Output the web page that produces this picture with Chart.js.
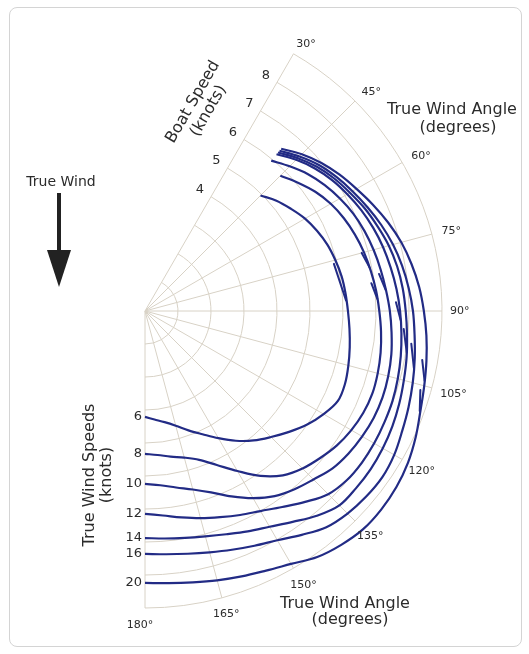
<!DOCTYPE html>
<html>
<head>
<meta charset="utf-8">
<script src="https://cdn.jsdelivr.net/npm/chart.js@4.4.1/dist/chart.umd.min.js"></script>
<style>
  html, body { margin: 0; padding: 0; background: #fff; overflow: hidden; }
  body { width: 529px; height: 654px; position: relative; }
  .frame { position: absolute; left: 9px; top: 7px; width: 511px; height: 638px;
           border: 1px solid #d4d4d4; border-radius: 8px; }
  .wrap { position: absolute; left: -152px; top: 0; width: 681px; height: 654px; }
</style>
</head>
<body>
<div class="frame"></div>
<div class="wrap"><canvas id="polarChart"></canvas></div>
<script>
// true wind angle categories, 5 degree steps round the full circle
const angles = [];
for (let a = 0; a < 360; a += 5) angles.push(a);

const gridAngles = [30, 45, 60, 75, 90, 105, 120, 135, 150, 165, 180];
const ringValues = [1, 2, 3, 4, 5, 6, 7, 8, 9];
const ringLabels = [4, 5, 6, 7, 8];

// true wind speeds (knots) and boat speed (knots) every 5 deg from the start angle to 180
const windSpeeds = [6, 8, 10, 12, 14, 16, 20];
const startAngles = [45, 45, 40, 40, 40, 40, 40];
const speed6 = [4.95, 5.2, 5.4, 5.6, 5.75, 5.88, 5.97, 6.05, 6.1, 6.15, 6.22, 6.3, 6.38, 6.45,
  6.45, 6.25, 6.0, 5.7, 5.4, 5.12, 4.8, 4.45, 4.12, 3.85, 3.6, 3.42, 3.3, 3.21];
const speed8 = [5.8, 6.05, 6.3, 6.5, 6.65, 6.77, 6.87, 6.95, 7.03, 7.1, 7.18, 7.25, 7.3, 7.33,
  7.3, 7.22, 7.1, 6.93, 6.75, 6.5, 6.1, 5.6, 5.15, 4.8, 4.6, 4.48, 4.38, 4.33];
const speed10 = [5.95, 6.2, 6.45, 6.65, 6.82, 6.97, 7.08, 7.17, 7.25, 7.33, 7.42, 7.5, 7.58, 7.63,
  7.66, 7.65, 7.6, 7.53, 7.42, 7.22, 7.05, 6.85, 6.55, 6.2, 5.85, 5.6, 5.43, 5.3, 5.24];
const speed12 = [6.2, 6.48, 6.72, 6.92, 7.08, 7.23, 7.36, 7.47, 7.56, 7.65, 7.73, 7.8, 7.87, 7.93,
  7.98, 8.0, 8.02, 8.02, 7.98, 7.85, 7.55, 7.25, 7.0, 6.82, 6.65, 6.5, 6.35, 6.22, 6.15];
const speed14 = [6.27, 6.55, 6.8, 7.0, 7.17, 7.35, 7.5, 7.65, 7.76, 7.84, 7.9, 7.97, 8.05, 8.12,
  8.2, 8.27, 8.32, 8.35, 8.35, 8.33, 8.1, 7.8, 7.55, 7.37, 7.2, 7.07, 6.98, 6.92, 6.88];
const speed16 = [6.34, 6.62, 6.88, 7.08, 7.26, 7.44, 7.62, 7.78, 7.91, 8.02, 8.12, 8.2, 8.3, 8.4,
  8.5, 8.6, 8.72, 8.78, 8.75, 8.68, 8.55, 8.28, 8.02, 7.85, 7.7, 7.57, 7.47, 7.4, 7.36];
const speed20 = [6.42, 6.72, 6.98, 7.2, 7.4, 7.62, 7.84, 8.04, 8.2, 8.34, 8.45, 8.56, 8.66, 8.76,
  8.88, 9.05, 9.2, 9.3, 9.35, 9.35, 9.25, 9.1, 8.85, 8.68, 8.56, 8.45, 8.35, 8.28, 8.24];
const boatSpeeds = [speed6, speed8, speed10, speed12, speed14, speed16, speed20];

// small sail-change hooks: [from angle, from speed, to angle, to speed]
const hooks = [
  [76, 5.9, 87, 6.1],
  [75, 6.8, 79, 6.93],
  [83, 6.91, 87, 7.05],
  [81, 7.18, 85, 7.32],
  [88, 7.61, 92, 7.75],
  [94, 7.86, 99, 8.03],
  [97, 8.13, 102, 8.33],
  [100, 8.53, 104, 8.73],
  [106, 8.68, 110, 8.86],
];

function toFullCircle(values, start) {
  const out = angles.map(() => null);
  const first = angles.indexOf(start);
  values.forEach((v, i) => { out[first + i] = v; });
  return out;
}

const FONT = '"DejaVu Sans", Verdana, sans-serif';
const TEXT = "#2b2b2b";
const LINE = "#222b85";

const polarGrid = {
  id: "polarGrid",
  beforeDatasetsDraw(chart) {
    const s = chart.scales.r;
    const ctx = chart.ctx;
    const a0 = s.getIndexAngle(angles.indexOf(30)) - Math.PI / 2;
    const a1 = s.getIndexAngle(angles.indexOf(180)) - Math.PI / 2;
    ctx.save();
    ctx.strokeStyle = "#d8d2c6";
    ctx.lineWidth = 1;
    ringValues.forEach((v) => {
      ctx.beginPath();
      ctx.arc(s.xCenter, s.yCenter, s.getDistanceFromCenterForValue(v), a0, a1);
      ctx.stroke();
    });
    gridAngles.forEach((a) => {
      const p = s.getPointPositionForValue(angles.indexOf(a), 9);
      ctx.beginPath();
      ctx.moveTo(s.xCenter, s.yCenter);
      ctx.lineTo(p.x, p.y);
      ctx.stroke();
    });
    ctx.restore();
  },
  afterDatasetsDraw(chart) {
    const s = chart.scales.r;
    const ctx = chart.ctx;
    const cx = s.xCenter, cy = s.yCenter;
    const step = angles[1] - angles[0];
    ctx.save();

    // hooks, placed with the same radial scale at fractional angle positions
    ctx.strokeStyle = LINE;
    ctx.lineWidth = 2;
    ctx.lineCap = "round";
    hooks.forEach(([a1, v1, a2, v2]) => {
      const p1 = s.getPointPositionForValue(a1 / step, v1);
      const p2 = s.getPointPositionForValue(a2 / step, v2);
      ctx.beginPath();
      ctx.moveTo(p1.x, p1.y);
      ctx.lineTo(p2.x, p2.y);
      ctx.stroke();
    });

    ctx.fillStyle = TEXT;
    ctx.textAlign = "center";
    ctx.textBaseline = "middle";

    // angle labels round the rim
    ctx.font = "11px " + FONT;
    gridAngles.forEach((a) => {
      const txt = a + "°";
      const w = ctx.measureText(txt).width;
      const t = (a * Math.PI) / 180;
      const d = s.drawingArea + 8 + (w / 2) * Math.abs(Math.sin(t)) + 6 * Math.abs(Math.cos(t));
      const p = s.getPointPosition(angles.indexOf(a), d);
      let x = p.x, y = p.y;
      if (a < 90) { y += 7 * Math.cos(t); x += 4 * Math.cos(t); }
      if (a === 180) { x -= 5; y += 3; }
      ctx.fillText(txt, x, y);
    });

    // boat speed ring labels along the 30 degree spoke
    ctx.font = "13px " + FONT;
    ringLabels.forEach((v) => {
      const p = s.getPointPositionForValue(angles.indexOf(30), v);
      ctx.fillText(String(v), p.x - 11, p.y - 7);
    });

    // true wind speed labels where each curve meets 180 degrees
    ctx.textAlign = "right";
    windSpeeds.forEach((ws, i) => {
      const vals = boatSpeeds[i];
      const p = s.getPointPositionForValue(angles.indexOf(180), vals[vals.length - 1]);
      ctx.fillText(String(ws), p.x - 3, p.y);
    });

    // titles
    ctx.textAlign = "center";
    ctx.font = "16px " + FONT;
    ctx.fillText("True Wind Angle", cx + 307, cy - 201);
    ctx.fillText("(degrees)", cx + 313, cy - 183);
    ctx.fillText("True Wind Angle", cx + 200, cy + 293);
    ctx.fillText("(degrees)", cx + 205, cy + 309);

    ctx.save();
    ctx.translate(cx + 48, cy - 209);
    ctx.rotate(-Math.PI / 3);
    ctx.fillText("Boat Speed", 0, 0);
    ctx.fillText("(knots)", 0, 18);
    ctx.restore();

    ctx.save();
    ctx.translate(cx - 55, cy + 164);
    ctx.rotate(-Math.PI / 2);
    ctx.fillText("True Wind Speeds", 0, 0);
    ctx.fillText("(knots)", 0, 17);
    ctx.restore();

    ctx.font = "14px " + FONT;
    ctx.fillText("True Wind", cx - 84, cy - 129);

    // wind arrow
    ctx.fillStyle = "#222";
    ctx.fillRect(cx - 88, cy - 118, 4, 62);
    ctx.beginPath();
    ctx.moveTo(cx - 98, cy - 61);
    ctx.lineTo(cx - 74, cy - 61);
    ctx.lineTo(cx - 86, cy - 24);
    ctx.closePath();
    ctx.fill();
    ctx.restore();
  },
};

const ctx = document.getElementById("polarChart").getContext("2d");
const chart = new Chart(ctx, {
  type: "radar",
  data: {
    labels: angles,
    datasets: windSpeeds.map((ws, i) => ({
      label: ws + " kn",
      data: toFullCircle(boatSpeeds[i], startAngles[i]),
      borderColor: LINE,
      borderWidth: 2.2,
      pointRadius: 0,
      fill: false,
      tension: 0.35,
      spanGaps: false,
      clip: false,
    })),
  },
  options: {
    responsive: true,
    maintainAspectRatio: false,
    animation: false,
    layout: { padding: { left: 0, top: 14, right: 87, bottom: 46 } },
    scales: {
      r: {
        min: 0,
        max: 9,
        startAngle: 0,
        grid: { display: false },
        angleLines: { display: false },
        pointLabels: { display: false },
        ticks: { display: false, stepSize: 1 },
      },
    },
    plugins: {
      legend: { display: false },
      tooltip: { enabled: false },
    },
  },
  plugins: [polarGrid],
});
</script>
</body>
</html>
